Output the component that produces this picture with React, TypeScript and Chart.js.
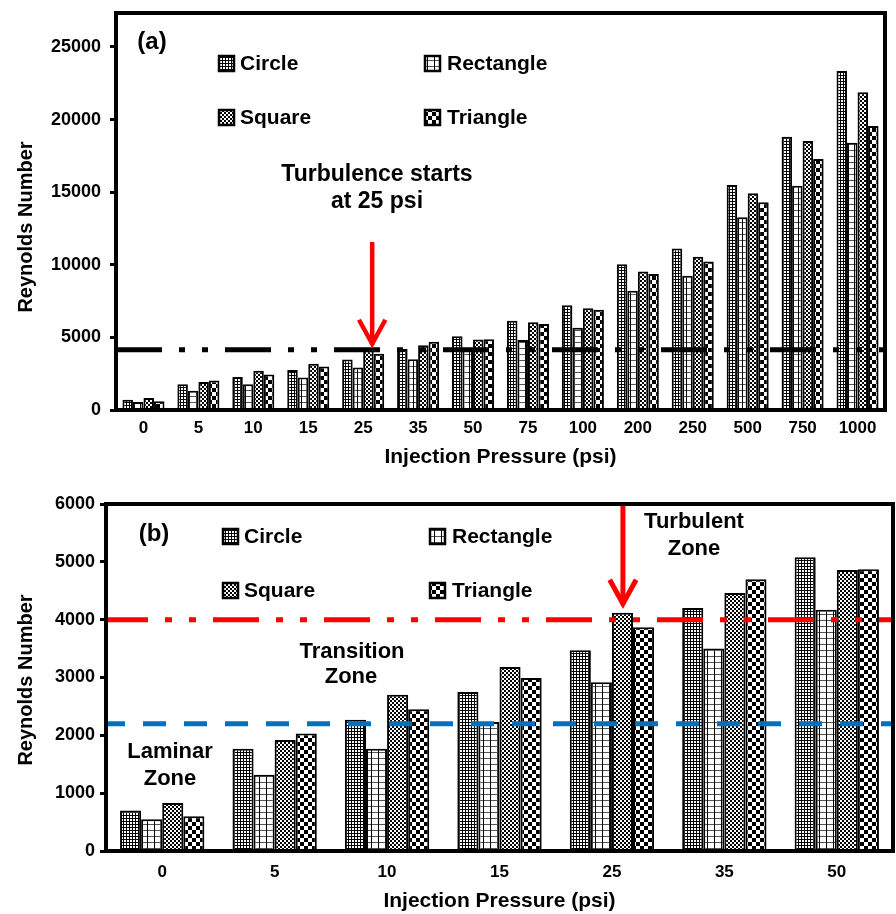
import React, { useEffect, useRef } from 'react';
import { Chart, registerables } from 'chart.js';

Chart.register(...registerables);

const FONT = '"Liberation Sans", Arial, Helvetica, sans-serif';

const seriesNames = ['Circle', 'Rectangle', 'Square', 'Triangle'];

// Panel (a): full pressure range
const pressuresA = ['0', '5', '10', '15', '25', '35', '50', '75', '100', '200', '250', '500', '750', '1000'];
const circleA = [700, 1770, 2270, 2750, 3470, 4200, 5080, 6150, 7210, 10030, 11130, 15500, 18820, 23350];
const rectangleA = [550, 1320, 1770, 2230, 2920, 3500, 4170, 4820, 5670, 8220, 9250, 13270, 15450, 18410];
const squareA = [830, 1920, 2700, 3180, 4120, 4460, 4860, 6040, 7000, 9530, 10560, 14920, 18530, 21880];
const triangleA = [600, 2030, 2450, 2990, 3870, 4700, 4870, 5920, 6910, 9370, 10220, 14300, 17290, 19560];
const yTicksA = [0, 5000, 10000, 15000, 20000, 25000];
const yMaxA = 27340;
const turbulenceOnsetA = 4150;

// Panel (b): low pressure range
const pressuresB = ['0', '5', '10', '15', '25', '35', '50'];
const circleB = [700, 1770, 2270, 2750, 3470, 4200, 5080];
const rectangleB = [550, 1320, 1770, 2230, 2920, 3500, 4170];
const squareB = [830, 1920, 2700, 3180, 4120, 4460, 4860];
const triangleB = [600, 2030, 2450, 2990, 3870, 4700, 4870];
const yTicksB = [0, 1000, 2000, 3000, 4000, 5000, 6000];
const yMaxB = 6000;
const laminarLimitB = 2200;
const turbulentLimitB = 4000;

function makePattern(kind: string): CanvasPattern {
  const c = document.createElement('canvas');
  let w = 4, h = 4;
  if (kind === 'Circle') { w = 3; h = 3; }
  if (kind === 'Rectangle') { w = 7; h = 6; }
  if (kind === 'Square') { w = 4; h = 4; }
  if (kind === 'Triangle') { w = 8; h = 8; }
  c.width = w; c.height = h;
  const g = c.getContext('2d')!;
  g.fillStyle = '#fff';
  g.fillRect(0, 0, w, h);
  g.fillStyle = '#000';
  if (kind === 'Circle') {
    g.fillRect(0, 0, w, 1);
    g.fillRect(0, 0, 1, h);
  } else if (kind === 'Rectangle') {
    g.fillStyle = '#555';
    g.fillRect(0, 0, w, 1);
    g.fillStyle = '#000';
    g.fillRect(0, 0, 1, h);
  } else if (kind === 'Square') {
    g.fillRect(0, 0, 2, 2);
    g.fillRect(2, 2, 2, 2);
  } else {
    g.fillRect(0, 0, 4, 4);
    g.fillRect(4, 4, 4, 4);
  }
  return g.createPattern(c, 'repeat')!;
}

function text(ctx: CanvasRenderingContext2D, s: string, x: number, y: number, size: number, align: CanvasTextAlign = 'center', color = '#000') {
  ctx.save();
  ctx.font = `bold ${size}px ${FONT}`;
  ctx.fillStyle = color;
  ctx.textAlign = align;
  ctx.textBaseline = 'middle';
  ctx.fillText(s, x, y);
  ctx.restore();
}

function legend(ctx: CanvasRenderingContext2D, patterns: CanvasPattern[], iconX: number[], textX: number[], rowY: number[], size: number) {
  seriesNames.forEach((name, i) => {
    const col = i % 2;
    const row = Math.floor(i / 2);
    const cy = rowY[row];
    const x0 = iconX[col];
    ctx.save();
    ctx.fillStyle = patterns[i];
    ctx.fillRect(x0, cy - 8, 15, 15);
    ctx.strokeStyle = '#000';
    ctx.lineWidth = 2.5;
    ctx.strokeRect(x0, cy - 8, 15, 15);
    ctx.restore();
    text(ctx, name, textX[col], cy, size, 'left');
  });
}

function arrow(ctx: CanvasRenderingContext2D, x: number, y0: number, tip: number, lw: number, head: number) {
  ctx.save();
  ctx.strokeStyle = '#ff0000';
  ctx.lineWidth = lw;
  ctx.setLineDash([]);
  ctx.beginPath();
  ctx.moveTo(x, y0);
  ctx.lineTo(x, tip - 3);
  ctx.stroke();
  ctx.lineJoin = 'miter';
  ctx.beginPath();
  ctx.moveTo(x - head * 0.55, tip - 4 - head);
  ctx.lineTo(x, tip - 4);
  ctx.lineTo(x + head * 0.55, tip - 4 - head);
  ctx.stroke();
  ctx.restore();
}

function hLine(ctx: CanvasRenderingContext2D, x0: number, x1: number, y: number, color: string, lw: number, dash: number[], offset = 0) {
  ctx.save();
  ctx.strokeStyle = color;
  ctx.lineWidth = lw;
  ctx.setLineDash(dash);
  ctx.lineDashOffset = offset;
  ctx.beginPath();
  ctx.moveTo(x0, y);
  ctx.lineTo(x1, y);
  ctx.stroke();
  ctx.restore();
}

function yTitle(ctx: CanvasRenderingContext2D, x: number, y: number) {
  ctx.save();
  ctx.translate(x, y);
  ctx.rotate(-Math.PI / 2);
  text(ctx, 'Reynolds Number', 0, 0, 20);
  ctx.restore();
}

function frame(ctx: CanvasRenderingContext2D, ca: any) {
  ctx.save();
  ctx.strokeStyle = '#000';
  ctx.lineWidth = 4;
  ctx.setLineDash([]);
  ctx.strokeRect(ca.left, ca.top, ca.right - ca.left, ca.bottom - ca.top);
  ctx.restore();
}

function makeConfig(opts: {
  labels: string[];
  values: number[][];
  patterns: CanvasPattern[];
  yMax: number;
  yTicks: number[];
  catPct: number;
  yWidth: number;
  xHeight: number;
  yLabelPad: number;
  xLabelPad: number;
  padding: any;
  plugin: any;
}): any {
  return {
    type: 'bar',
    data: {
      labels: opts.labels,
      datasets: seriesNames.map((name, i) => ({
        label: name,
        data: opts.values[i],
        backgroundColor: opts.patterns[i],
        borderColor: '#000',
        borderWidth: 2,
        borderSkipped: 'start',
        barPercentage: 1,
        categoryPercentage: opts.catPct,
      })),
    },
    options: {
      responsive: false,
      animation: false,
      devicePixelRatio: 1,
      events: [],
      layout: { padding: opts.padding },
      plugins: { legend: { display: false }, tooltip: { enabled: false } },
      scales: {
        x: {
          afterFit: (s: any) => {
            s.height = opts.xHeight;
            s.paddingLeft = 0;
            s.paddingRight = 0;
          },
          border: { display: true, color: '#000', width: 4 },
          grid: { display: false, drawTicks: false },
          ticks: {
            color: '#000',
            font: { family: FONT, size: 17, weight: 'bold' },
            padding: opts.xLabelPad,
            maxRotation: 0,
            autoSkip: false,
          },
          title: {
            display: true,
            text: 'Injection Pressure (psi)',
            color: '#000',
            font: { family: FONT, size: 21, weight: 'bold' },
            padding: 0,
          },
        },
        y: {
          min: 0,
          max: opts.yMax,
          afterFit: (s: any) => {
            s.width = opts.yWidth;
            s.paddingTop = 0;
            s.paddingBottom = 0;
          },
          afterBuildTicks: (s: any) => { s.ticks = opts.yTicks.map((v) => ({ value: v })); },
          border: { display: true, color: '#000', width: 4 },
          grid: { drawOnChartArea: false, drawTicks: true, tickLength: 6, color: '#000', lineWidth: 3 },
          ticks: {
            color: '#000',
            font: { family: FONT, size: 18, weight: 'bold' },
            padding: opts.yLabelPad,
            callback: (v: any) => String(v),
          },
        },
      },
    },
    plugins: [opts.plugin],
  };
}

export default function App() {
  const refA = useRef<HTMLCanvasElement>(null);
  const refB = useRef<HTMLCanvasElement>(null);

  useEffect(() => {
    const patterns = seriesNames.map((n) => makePattern(n));

    const pluginA = {
      id: 'decorA',
      afterDatasetsDraw(chart: any) {
        const { ctx, chartArea: ca, scales } = chart;
        const yy = scales.y.getPixelForValue(turbulenceOnsetA);
        hLine(ctx, ca.left, ca.right, yy, '#000', 5, [46, 17, 6, 17, 6, 17], 0);
        const ax = scales.x.getPixelForValue(4) + 9;
        arrow(ctx, ax, 242, yy - 2, 4.5, 24);
      },
      afterDraw(chart: any) {
        const { ctx, chartArea: ca } = chart;
        frame(ctx, ca);
        text(ctx, '(a)', 152, 42, 24);
        legend(ctx, patterns, [219, 425], [240, 447], [64, 118], 21);
        text(ctx, 'Turbulence starts', 377, 175, 23);
        text(ctx, 'at 25 psi', 377, 202, 23);
        yTitle(ctx, 26, 227);
      },
    };

    const pluginB = {
      id: 'decorB',
      afterDatasetsDraw(chart: any) {
        const { ctx, chartArea: ca, scales } = chart;
        const yr = scales.y.getPixelForValue(turbulentLimitB);
        hLine(ctx, ca.left, ca.right, yr, '#ff0000', 5, [46, 17, 7, 17, 7, 17], 4);
        const yb = scales.y.getPixelForValue(laminarLimitB);
        hLine(ctx, ca.left, ca.right, yb, '#0070c0', 5, [23, 18], 4);
        const ax = scales.x.getPixelForValue(4) + 11;
        const tip = scales.y.getPixelForValue(squareB[4]) - 5;
        arrow(ctx, ax, ca.top, tip, 5, 24);
      },
      afterDraw(chart: any) {
        const { ctx, chartArea: ca } = chart;
        frame(ctx, ca);
        text(ctx, '(b)', 154, 64, 24);
        legend(ctx, patterns, [223, 430], [244, 452], [67, 121], 21);
        text(ctx, 'Turbulent', 694, 52, 22);
        text(ctx, 'Zone', 694, 79, 22);
        text(ctx, 'Transition', 352, 182, 22);
        text(ctx, 'Zone', 351, 207, 22);
        text(ctx, 'Laminar', 170, 282, 22);
        text(ctx, 'Zone', 170, 309, 22);
        yTitle(ctx, 26, 210);
      },
    };

    const a = new Chart(refA.current!, makeConfig({
      labels: pressuresA,
      values: [circleA, rectangleA, squareA, triangleA],
      patterns,
      yMax: yMaxA,
      yTicks: yTicksA,
      catPct: 0.765,
      yWidth: 116,
      xHeight: 60,
      yLabelPad: 9,
      xLabelPad: 8,
      padding: { top: 13, right: 11, left: 0, bottom: 0 },
      plugin: pluginA,
    }));

    const b = new Chart(refB.current!, makeConfig({
      labels: pressuresB,
      values: [circleB, rectangleB, squareB, triangleB],
      patterns,
      yMax: yMaxB,
      yTicks: yTicksB,
      catPct: 0.75,
      yWidth: 106,
      xHeight: 63,
      yLabelPad: 5,
      xLabelPad: 11,
      padding: { top: 34, right: 3, left: 0, bottom: 0 },
      plugin: pluginB,
    }));

    return () => {
      a.destroy();
      b.destroy();
    };
  }, []);

  return (
    <div style={{ position: 'absolute', left: 0, top: 0, width: 896, height: 914, background: '#fff' }}>
      <canvas ref={refA} width={896} height={470} style={{ position: 'absolute', left: 0, top: 0, width: 896, height: 470 }} />
      <canvas ref={refB} width={896} height={444} style={{ position: 'absolute', left: 0, top: 470, width: 896, height: 444 }} />
    </div>
  );
}
